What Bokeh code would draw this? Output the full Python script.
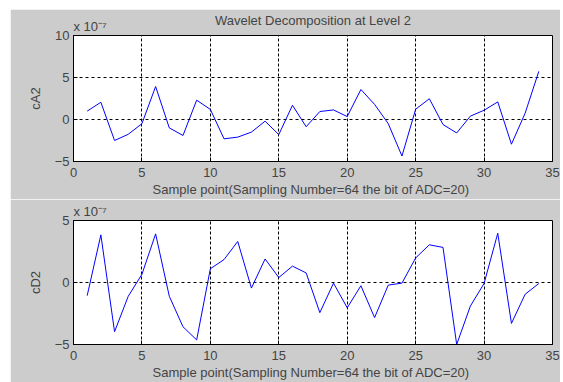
from bokeh.plotting import figure
from bokeh.layouts import column
from bokeh.models import FixedTicker, Range1d, Title
from bokeh.embed import file_html
from bokeh.resources import INLINE

# Data (values in units of 1e-7)
samples = list(range(1, 35))
cA2 = [1.0, 2.05, -2.5, -1.76, -0.5, 3.93, -1.0, -1.9, 2.3, 1.2,
       -2.3, -2.1, -1.5, -0.2, -1.8, 1.7, -0.86, 0.95, 1.14, 0.35,
       3.57, 1.8, -0.5, -4.35, 1.22, 2.47, -0.6, -1.6, 0.4, 1.1,
       2.1, -2.94, 0.75, 5.73]
cD2 = [-1.06, 3.84, -3.97, -1.11, 0.66, 3.92, -1.11, -3.57, -4.63, 1.11,
       1.85, 3.31, -0.45, 1.9, 0.4, 1.32, 0.77, -2.43, -0.05, -2.04,
       -0.26, -2.83, -0.21, -0.05, 1.98, 3.04, 2.83, -5.0, -1.9, -0.08,
       3.97, -3.3, -0.95, -0.08]
x_ticks = [0, 5, 10, 15, 20, 25, 30, 35]
cA2_ticks = [-5, 0, 5, 10]
cD2_ticks = [-5, 0, 5]
title_text = "Wavelet Decomposition at Level 2"
multiplier = "x 10\u207b\u2077"
x_label = "Sample point(Sampling Number=64  the bit of ADC=20)"
FONT = "Liberation Sans"
GRAY = "#cccccc"


def make_fig(h, top, bottom, yr, yticks, ylabel, ys, title=None):
    p = figure(width=550, height=h, x_range=Range1d(0, 35), y_range=Range1d(*yr),
               output_backend="svg", toolbar_location=None,
               min_border_left=63, min_border_right=8,
               min_border_top=top, min_border_bottom=bottom,
               background_fill_color="white", border_fill_color=GRAY,
               outline_line_color="black", outline_line_width=1)
    if title:
        p.title.text = title
        p.title.text_font = FONT
        p.title.text_font_size = "13px"
        p.title.text_font_style = "normal"
        p.title.align = "center"
        p.title.standoff = -26
    p.line(samples, ys, line_color="#0000ff", line_width=1)
    p.xaxis.ticker = FixedTicker(ticks=x_ticks)
    p.yaxis.ticker = FixedTicker(ticks=yticks)
    p.xaxis.axis_label = x_label
    p.yaxis.axis_label = ylabel
    for ax in (p.xaxis, p.yaxis):
        ax.major_label_text_font = FONT
        ax.major_label_text_font_size = "13px"
        ax.axis_label_text_font = FONT
        ax.axis_label_text_font_size = "13px"
        ax.axis_label_text_font_style = "normal"
        ax.major_tick_in = 4
        ax.major_tick_out = 0
        ax.minor_tick_line_color = None
        ax.axis_line_color = "black"
        ax.major_tick_line_color = "black"
        ax.major_label_standoff = 4
    p.xaxis.major_label_standoff = 6
    p.xaxis.axis_label_standoff = 2
    p.yaxis.axis_label_standoff = 9
    p.xgrid.grid_line_color = "black"
    p.xgrid.grid_line_dash = "3 2"
    p.ygrid.grid_line_color = "black"
    p.ygrid.grid_line_dash = "3 3"
    p.add_layout(Title(text=multiplier, align="left", text_font=FONT,
                       text_font_size="13px", text_font_style="normal",
                       standoff=4), "above")
    return p


p1 = make_fig(190, 26, 37, (-5, 10), cA2_ticks, "cA2", cA2, title=title_text)
p2 = make_fig(183, 21, 35, (-5, 5), cD2_ticks, "cD2", cD2)

layout = column(p1, p2, spacing=0, margin=(9, 3, 0, 10))
open("out.html", "w").write(file_html(layout, INLINE))
